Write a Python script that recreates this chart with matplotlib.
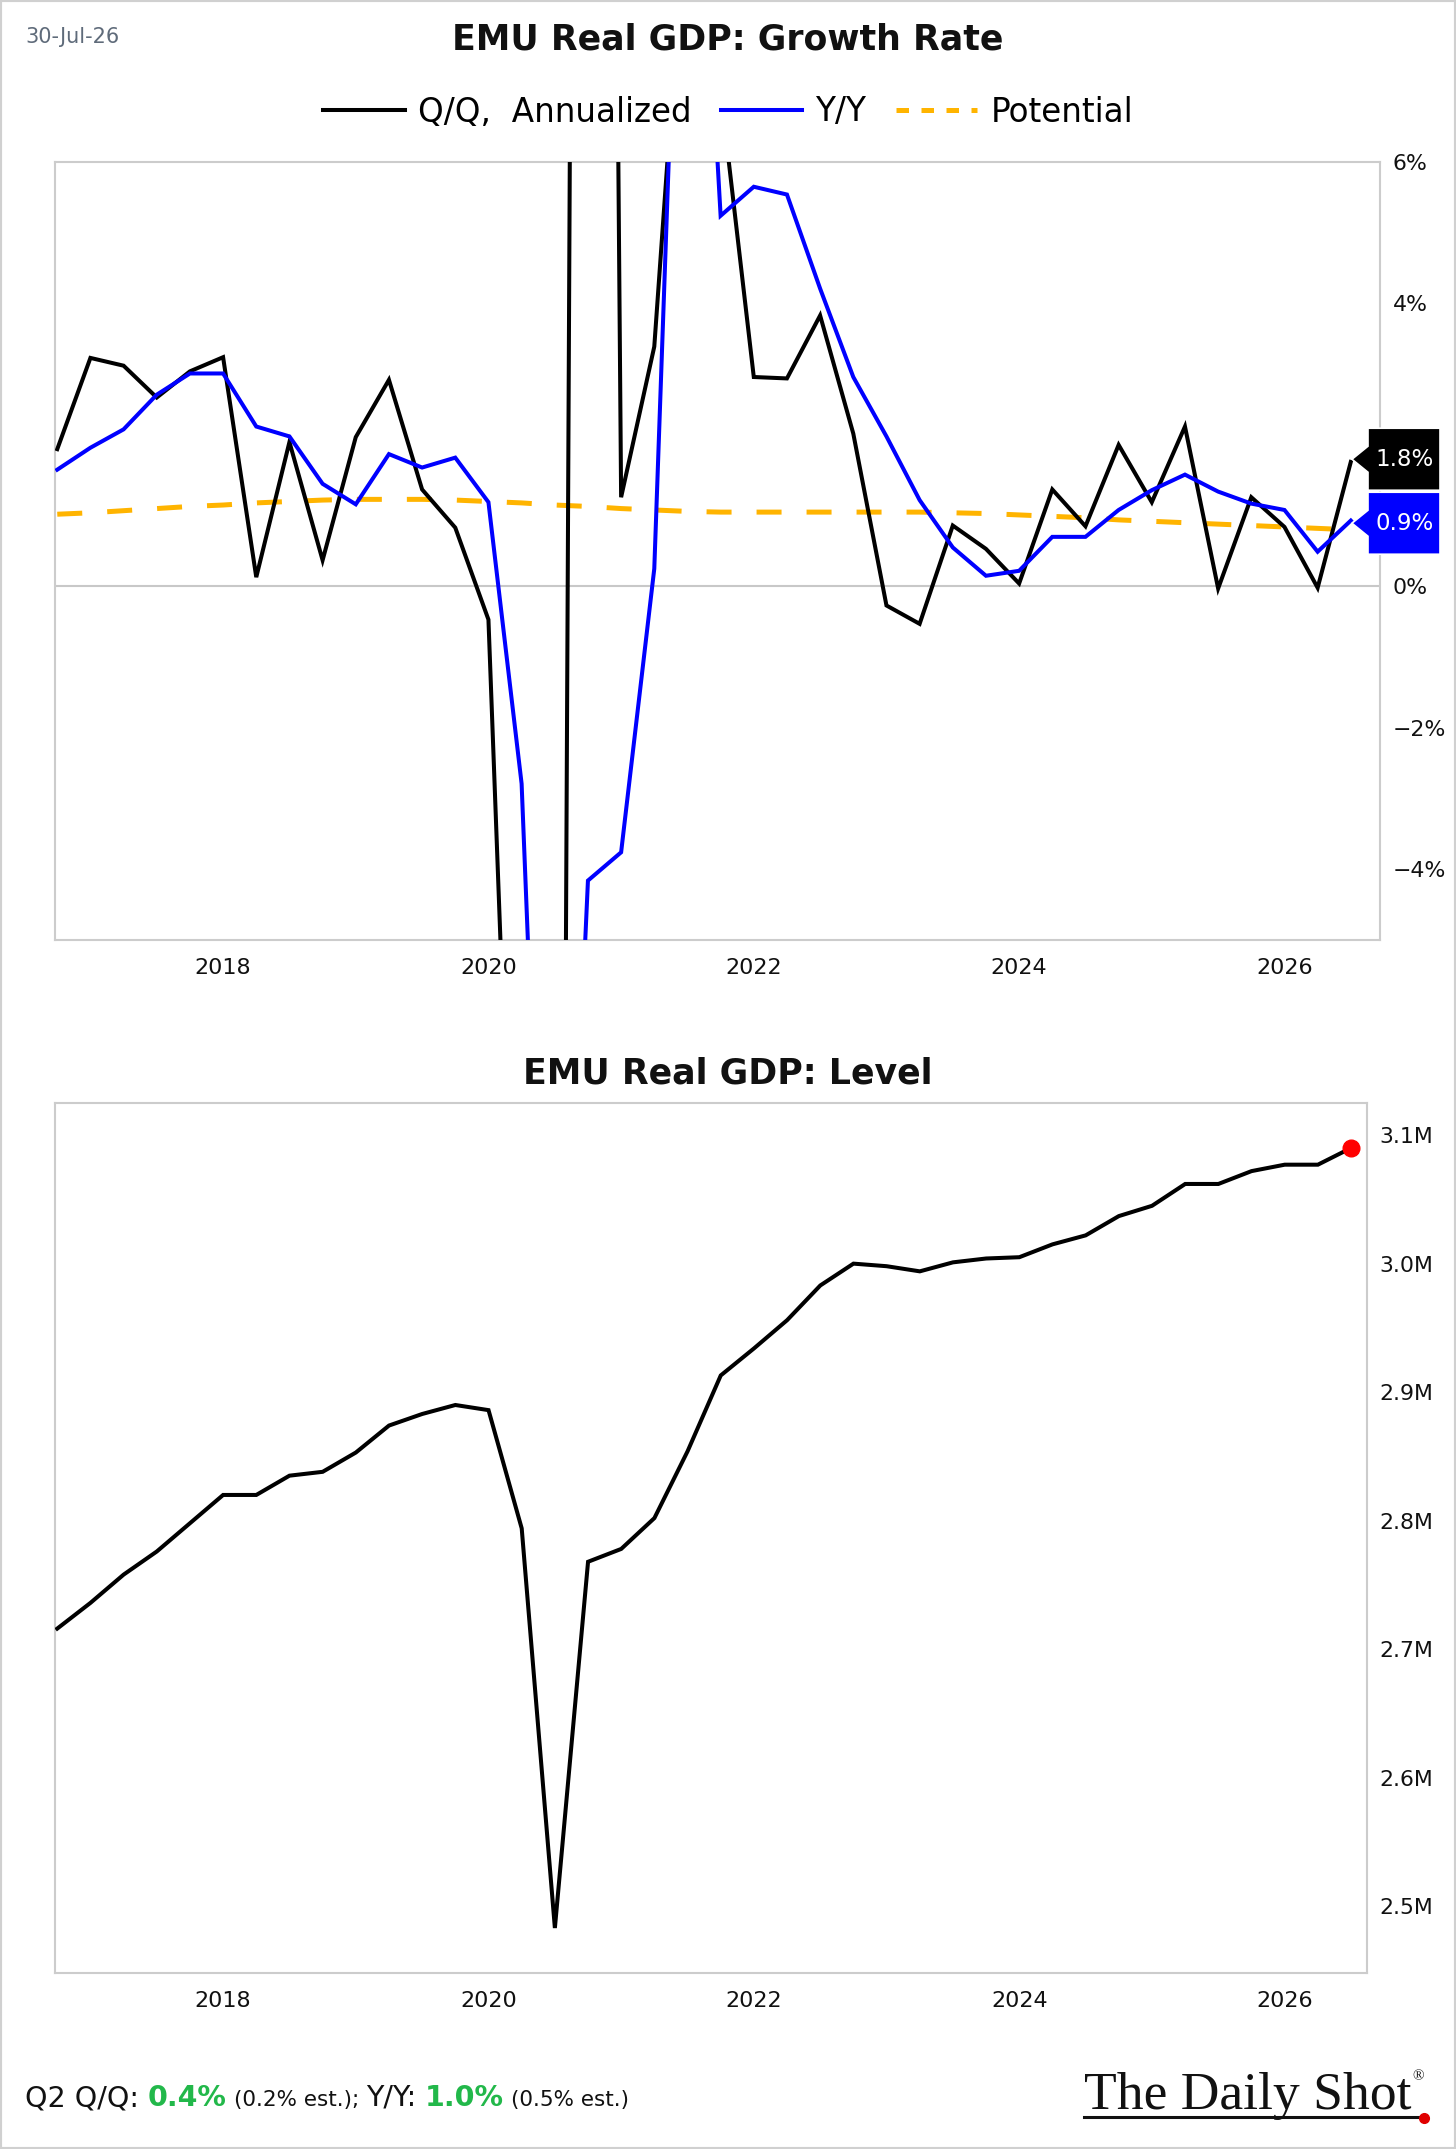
import matplotlib
matplotlib.use('Agg')
import matplotlib.pyplot as plt
import matplotlib.transforms as mtransforms
from matplotlib.patches import Polygon, Rectangle
from matplotlib.lines import Line2D
import numpy as np
import pandas as pd

# ---------------- data ----------------
quarters = pd.period_range('2016Q3', '2026Q2', freq='Q')

qoq_annualized = [1.94, 3.23, 3.12, 2.67, 3.04, 3.24, 0.13, 2.04, 0.37, 2.11,
                  2.92, 1.37, 0.83, -0.47, -13.0, -37.0, 58.0, 1.26, 3.39, 10.0,
                  7.0, 2.96, 2.94, 3.83, 2.16, -0.27, -0.53, 0.86, 0.53, 0.04,
                  1.37, 0.85, 2.00, 1.19, 2.26, -0.03, 1.26, 0.84, -0.02, 1.76]

yoy = [1.65, 1.96, 2.22, 2.71, 3.01, 3.01, 2.26, 2.12, 1.45, 1.16,
       1.87, 1.68, 1.82, 1.19, -2.79, -14.5, -4.16, -3.76, 0.25, 13.5,
       5.24, 5.65, 5.54, 4.21, 2.96, 2.12, 1.22, 0.55, 0.15, 0.22,
       0.70, 0.70, 1.08, 1.36, 1.58, 1.34, 1.17, 1.08, 0.49, 0.93]

potential = [1.02, 1.04, 1.07, 1.10, 1.13, 1.15, 1.18, 1.20, 1.22, 1.23,
             1.23, 1.23, 1.22, 1.20, 1.18, 1.15, 1.13, 1.10, 1.08, 1.06,
             1.05, 1.05, 1.05, 1.05, 1.05, 1.05, 1.05, 1.04, 1.03, 1.01,
             0.99, 0.97, 0.94, 0.92, 0.90, 0.88, 0.86, 0.84, 0.82, 0.80]

level_m = [2.716, 2.736, 2.758, 2.776, 2.798, 2.820, 2.820, 2.835, 2.838, 2.853,
           2.874, 2.883, 2.890, 2.886, 2.794, 2.483, 2.768, 2.778, 2.802, 2.854,
           2.913, 2.934, 2.956, 2.983, 3.000, 2.998, 2.994, 3.001, 3.004, 3.005,
           3.015, 3.022, 3.037, 3.045, 3.062, 3.062, 3.072, 3.077, 3.077, 3.090]

year_ticks = [2018, 2020, 2022, 2024, 2026]
growth_ticks = [-4, -2, 0, 2, 4, 6]
level_ticks = [2.5, 2.6, 2.7, 2.8, 2.9, 3.0, 3.1]

legend_labels = ['Q/Q,  Annualized', 'Y/Y', 'Potential']
footer_parts = [('Q2 Q/Q: ', 'big', '#111111'), ('0.4%', 'bold', '#22b84a'),
                (' (0.2% est.); ', 'small', '#111111'), ('Y/Y: ', 'big', '#111111'),
                ('1.0%', 'bold', '#22b84a'), (' (0.5% est.)', 'small', '#111111')]

# ---------------- layout ----------------
W, H = 1456, 2149
t = np.array([p.year + p.quarter * 0.25 for p in quarters])

plt.rcParams['font.family'] = ['DejaVu Sans']
fig = plt.figure(figsize=(W / 100, H / 100), dpi=100)
fig.patch.set_facecolor('white')

BLACK = '#000000'
BLUE = '#0000ff'
ORANGE = '#ffb400'
GRID = '#cccccc'

ax1 = fig.add_axes([55 / W, 1 - 940 / H, 1325 / W, (940 - 162) / H])
ax2 = fig.add_axes([55 / W, 1 - 1973 / H, 1312 / W, (1973 - 1103) / H])

# ---- growth panel ----
ax1.axhline(0, color='#c8c8c8', lw=1.5, zorder=1)
ax1.plot(t, potential, color=ORANGE, lw=3.6, dashes=(5, 5), zorder=2)
ax1.plot(t, qoq_annualized, color=BLACK, lw=2.9, zorder=3, solid_joinstyle='miter')
ax1.plot(t, yoy, color=BLUE, lw=2.9, zorder=4, solid_joinstyle='miter')
ax1.set_xlim(2016.733, 2026.72)
ax1.set_ylim(-5.0, 6.0)
ax1.set_yticks(growth_ticks)

# ---- end-of-line tags on growth panel ----
px_per_unit = (940 - 162) / 11.0
vals = [qoq_annualized[-1], yoy[-1]]
cols = [BLACK, BLUE]
sep = 64.0 / px_per_unit
centers = list(vals)
if centers[0] - centers[1] < sep:
    mid = (centers[0] + centers[1]) / 2
    centers = [mid + sep / 2, mid - sep / 2]

# tick labels hidden behind the tags (as in the reference) are left blank
half_h = 31.0 / px_per_unit
def covered(v):
    return any(abs(v - c) < half_h for c in centers)
ax1.set_yticklabels(['' if covered(v) else f"{v}%".replace('-', '\u2212')
                     for v in growth_ticks])

blend = mtransforms.blended_transform_factory(ax1.transAxes, ax1.transData)
for v, c, col in zip(vals, centers, cols):
    tr = mtransforms.Affine2D() + mtransforms.ScaledTranslation(1.0, c, blend)
    verts = [(-28, 0), (-12, 13), (-12, 31), (60, 31), (60, -31), (-12, -31), (-12, -13)]
    poly = Polygon(verts, closed=True, transform=tr, facecolor=col,
                   edgecolor='white', lw=1.2, clip_on=False, zorder=8)
    ax1.add_patch(poly)
    ax1.text(25, 0, f"{v:.1f}%", transform=tr, ha='center', va='center',
             color='white', fontsize=16.5, clip_on=False, zorder=9)

# ---- level panel ----
ax2.plot(t, level_m, color=BLACK, lw=2.9, solid_joinstyle='miter', zorder=3)
ax2.plot([t[-1]], [level_m[-1]], 'o', color='#ff0000', ms=12, zorder=5, clip_on=False)
ax2.set_xlim(2016.733, 2026.62)
ax2.set_ylim(2.448, 3.125)
ax2.set_yticks(level_ticks)
ax2.set_yticklabels([f"{v:.1f}M" for v in level_ticks])

for ax in (ax1, ax2):
    ax.set_xticks(year_ticks)
    ax.set_xticklabels([str(y) for y in year_ticks])
    ax.yaxis.tick_right()
    ax.tick_params(axis='y', length=0, pad=9, labelsize=15.8, colors='#111111')
    ax.tick_params(axis='x', length=0, pad=13, labelsize=16, colors='#111111')
    for s in ax.spines.values():
        s.set_color(GRID)
        s.set_linewidth(1.5)
    ax.set_facecolor('white')

# ---- titles, legend, date ----
fig.text(0.5, 1 - 40 / H, 'EMU Real GDP: Growth Rate', ha='center', va='center',
         fontsize=25, fontweight='bold', color='#111111')
fig.text(0.5, 1 - 1073 / H, 'EMU Real GDP: Level', ha='center', va='center',
         fontsize=25, fontweight='bold', color='#111111')
fig.text(25 / W, 1 - 37 / H, '30-Jul-26', ha='left', va='center', fontsize=15,
         color='#5f6b7a')

handles = [Line2D([], [], color=BLACK, lw=2.9),
           Line2D([], [], color=BLUE, lw=2.9),
           Line2D([], [], color=ORANGE, lw=3.6, dashes=(2.5, 2.5))]
fig.legend(handles, legend_labels, loc='center', bbox_to_anchor=(0.5, 1 - 112 / H),
           ncol=3, frameon=False, fontsize=23.5, handlelength=2.5,
           handletextpad=0.4, columnspacing=0.9)

# ---- footer ----
fig.canvas.draw()
renderer = fig.canvas.get_renderer()
x = 25.0
ybase = 1 - 2106 / H
sizes = {'big': 20.5, 'bold': 20.5, 'small': 15.5}
for txt, kind, col in footer_parts:
    n_lead = len(txt) - len(txt.lstrip(' '))
    n_trail = len(txt) - len(txt.rstrip(' '))
    space_w = sizes[kind] * 100 / 72 * 0.318
    core = txt.strip(' ')
    tt = fig.text((x + n_lead * space_w) / W, ybase, core, ha='left', va='baseline',
                  fontsize=sizes[kind],
                  fontweight='bold' if kind == 'bold' else 'normal', color=col)
    bb = tt.get_window_extent(renderer)
    x = x + n_lead * space_w + bb.width + n_trail * space_w

# ---- logo ----
logo = fig.text(1084 / W, 1 - 2109 / H, 'The Daily Shot', ha='left', va='baseline',
                fontsize=38.5, family=['Liberation Serif', 'DejaVu Serif'], color='#111111')
lb = logo.get_window_extent(renderer)
fig.text((lb.x1 + 1) / W, 1 - 2077 / H, '\u00ae', ha='left', va='center', fontsize=11,
         family=['Liberation Serif', 'DejaVu Serif'], color='#111111')
fig.add_artist(Line2D([1084 / W, (lb.x1 + 10) / W], [1 - 2117 / H, 1 - 2117 / H],
                      color='#111111', lw=2.2, transform=fig.transFigure))
fig.add_artist(Line2D([(lb.x1 + 12) / W], [1 - 2118 / H], marker='o', ms=7,
                      color='#e00000', transform=fig.transFigure))

# ---- figure frame ----
fig.add_artist(Rectangle((0, 0), 1, 1, transform=fig.transFigure, fill=False,
                         edgecolor='#d0d0d0', lw=3))

fig.savefig('out.png', dpi=100, facecolor='white')
